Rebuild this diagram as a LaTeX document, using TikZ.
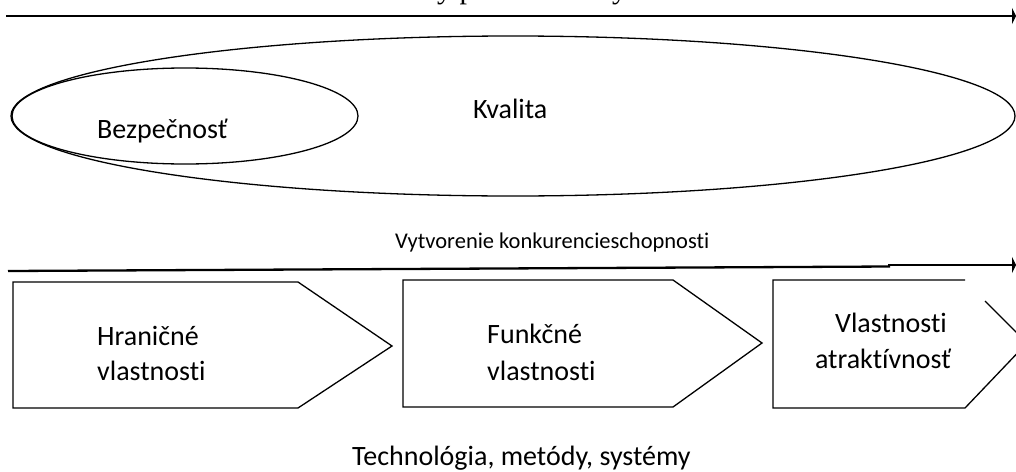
\documentclass[tikz,border=0pt]{standalone}
\usepackage{fontspec}
\setmainfont{Carlito}[RawFeature={-liga}]
\newfontfamily\topserif{Liberation Serif}
\usetikzlibrary{arrows.meta}
\begin{document}
\begin{tikzpicture}[x=1pt,y=-1pt,
  lbl/.style={inner sep=0pt, font=\fontsize{28}{34}\selectfont},
  smalllbl/.style={inner sep=0pt, font=\fontsize{22.5}{27}\selectfont},
  outline/.style={line width=1.3pt, line join=miter},
  axis/.style={line width=2.3pt, -{Triangle[length=4pt,width=16pt]}}]
\useasboundingbox (0,0) rectangle (1016,471);
\clip (0,0) rectangle (1016,471);

% top arrow with heading cut off at the top edge
\node[inner sep=0pt, anchor=base west, font=\topserif\fontsize{30}{36}\selectfont] (head) at (347,-1.5) {Hodnoty pre zákazníky};
\coordinate (ta) at (6,16);
\coordinate (tb) at (1016,16);
\draw[axis] (ta) -- (tb);

% ellipses
\draw[outline] (513,116) ellipse [x radius=502, y radius=80];
\draw[outline] (185,116) ellipse [x radius=173, y radius=48];
\node[lbl, anchor=base west] (bez) at (97,138) {Bezpečnosť};
\node[lbl, anchor=base west] (kva) at (473,118) {Kvalita};

% middle arrow
\node[smalllbl, anchor=base west] (vyt) at (395,248) {Vytvorenie konkurencieschopnosti};
\coordinate (ma) at (8,271);
\coordinate (mb) at (890,266.5);
\coordinate (mc) at (888,265);
\coordinate (md) at (1016,265);
\draw[line width=2.3pt] (ma) -- (mb);
\draw[axis] (mc) -- (md);

% box 1
\draw[outline] (13,282) -- (298,282) -- (392,346) -- (298,408) -- (13,408) -- cycle;
\node[lbl, anchor=base west] (b1a) at (97,345) {Hraničné};
\node[lbl, anchor=base west] (b1b) at (97,380) {vlastnosti};

% box 2
\draw[outline] (403,280) -- (673,280) -- (762,343) -- (673,407) -- (403,407) -- cycle;
\node[lbl, anchor=base west] (b2a) at (487,343) {Funkčné};
\node[lbl, anchor=base west] (b2b) at (487,380) {vlastnosti};

% box 3 (partly cut)
\draw[outline] (965,280) -- (773,280) -- (773,408) -- (965,408) -- (1027,343) -- (985,301);
\node[lbl, anchor=base] (b3a) at (891,332) {Vlastnosti};
\node[lbl, anchor=base] (b3b) at (883,368) {atraktívnosť};

% bottom label
\node[lbl, anchor=base west] (tech) at (352,465) {Technológia, metódy, systémy};
\end{tikzpicture}
\end{document}
